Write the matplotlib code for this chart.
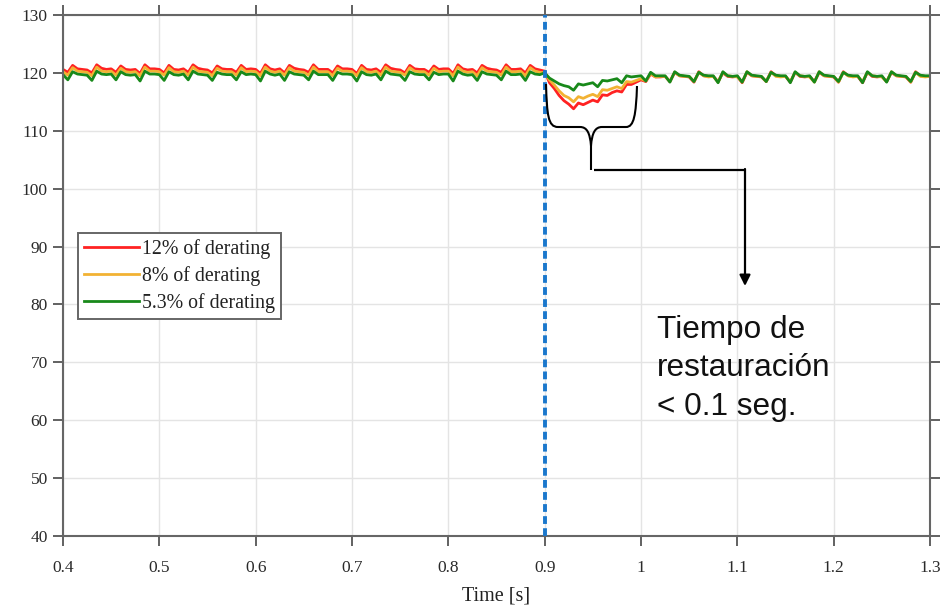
import numpy as np
import matplotlib
matplotlib.use("Agg")
import matplotlib.pyplot as plt
from matplotlib.path import Path
from matplotlib.patches import PathPatch

# ---------------- data ----------------
t_start, t_end, n_samples = 0.4, 1.3, 181
time_s = np.linspace(t_start, t_end, n_samples)

red_12 = [
    120.6, 120.1, 121.3, 120.7, 120.6, 120.5, 120.0, 121.4, 120.8, 120.6,
    120.7, 120.1, 121.2, 120.6, 120.5, 120.6, 119.9, 121.4, 120.7, 120.7,
    120.6, 120.0, 121.3, 120.6, 120.5, 120.7, 120.1, 121.4, 120.8, 120.6,
    120.5, 120.0, 121.2, 120.7, 120.6, 120.6, 120.1, 121.3, 120.6, 120.7,
    120.6, 119.9, 121.4, 120.7, 120.5, 120.7, 120.0, 121.3, 120.8, 120.6,
    120.5, 120.1, 121.4, 120.6, 120.6, 120.6, 120.0, 121.2, 120.7, 120.7,
    120.6, 119.9, 121.3, 120.6, 120.5, 120.7, 120.1, 121.4, 120.8, 120.6,
    120.5, 120.0, 121.3, 120.7, 120.6, 120.6, 120.1, 121.2, 120.6, 120.7,
    120.7, 119.9, 121.4, 120.7, 120.5, 120.6, 120.0, 121.3, 120.8, 120.6,
    120.5, 120.1, 121.4, 120.6, 120.6, 120.7, 120.0, 121.3, 120.7, 120.5,
    120.3, 118.3, 117.3, 116.1, 115.2, 114.6, 113.8, 114.8, 114.5, 114.9,
    115.3, 115.0, 116.2, 116.1, 116.6, 116.9, 116.7, 118.0, 118.0, 118.4,
    118.8, 118.5, 119.8, 119.3, 119.3, 119.4, 118.5, 120.1, 119.5, 119.4,
    119.3, 118.4, 120.2, 119.5, 119.4, 119.4, 118.5, 120.0, 119.4, 119.3,
    119.4, 118.3, 120.1, 119.5, 119.4, 119.3, 118.5, 120.2, 119.5, 119.4,
    119.4, 118.4, 120.1, 119.4, 119.3, 119.4, 118.5, 120.1, 119.5, 119.4,
    119.3, 118.4, 120.2, 119.5, 119.4, 119.4, 118.3, 120.1, 119.4, 119.3,
    119.4, 118.5, 120.1, 119.5, 119.4, 119.3, 118.4, 120.2, 119.5, 119.4,
    119.4,
]

orange_8 = [
    120.2, 119.6, 120.9, 120.3, 120.2, 120.1, 119.5, 121.0, 120.3, 120.2,
    120.3, 119.6, 120.8, 120.2, 120.1, 120.2, 119.5, 121.0, 120.3, 120.3,
    120.2, 119.6, 120.9, 120.2, 120.1, 120.3, 119.6, 121.0, 120.3, 120.2,
    120.1, 119.5, 120.8, 120.3, 120.2, 120.2, 119.6, 120.9, 120.2, 120.3,
    120.2, 119.5, 121.0, 120.3, 120.1, 120.3, 119.6, 120.9, 120.3, 120.2,
    120.1, 119.6, 121.0, 120.2, 120.2, 120.2, 119.5, 120.8, 120.3, 120.3,
    120.2, 119.5, 120.9, 120.2, 120.1, 120.3, 119.6, 121.0, 120.3, 120.2,
    120.1, 119.6, 120.9, 120.3, 120.2, 120.2, 119.6, 120.8, 120.2, 120.3,
    120.3, 119.5, 121.0, 120.3, 120.1, 120.2, 119.5, 120.9, 120.3, 120.2,
    120.1, 119.6, 121.0, 120.2, 120.2, 120.3, 119.5, 120.9, 120.3, 120.1,
    120.0, 118.8, 117.9, 116.9, 116.1, 115.7, 115.0, 115.9, 115.6, 116.0,
    116.3, 115.9, 117.1, 117.0, 117.3, 117.6, 117.3, 118.5, 118.4, 118.7,
    119.0, 118.6, 119.9, 119.3, 119.4, 119.4, 118.5, 120.1, 119.5, 119.4,
    119.4, 118.5, 120.1, 119.5, 119.3, 119.4, 118.4, 120.1, 119.5, 119.4,
    119.3, 118.4, 120.2, 119.5, 119.4, 119.4, 118.5, 120.1, 119.4, 119.3,
    119.4, 118.5, 120.1, 119.5, 119.4, 119.3, 118.4, 120.2, 119.5, 119.4,
    119.4, 118.4, 120.1, 119.5, 119.3, 119.4, 118.5, 120.1, 119.5, 119.4,
    119.3, 118.5, 120.2, 119.5, 119.4, 119.4, 118.4, 120.1, 119.4, 119.3,
    119.4,
]

green_53 = [
    119.7, 118.8, 120.2, 119.8, 119.7, 119.6, 118.7, 120.3, 119.8, 119.7,
    119.8, 118.8, 120.2, 119.7, 119.6, 119.7, 118.6, 120.3, 119.8, 119.8,
    119.7, 118.7, 120.2, 119.7, 119.6, 119.8, 118.8, 120.3, 119.8, 119.7,
    119.6, 118.7, 120.1, 119.8, 119.7, 119.7, 118.8, 120.2, 119.7, 119.8,
    119.7, 118.6, 120.3, 119.8, 119.6, 119.8, 118.7, 120.2, 119.8, 119.7,
    119.6, 118.8, 120.3, 119.7, 119.7, 119.7, 118.7, 120.1, 119.8, 119.8,
    119.7, 118.6, 120.2, 119.7, 119.6, 119.8, 118.8, 120.3, 119.8, 119.7,
    119.6, 118.7, 120.2, 119.8, 119.7, 119.7, 118.8, 120.1, 119.7, 119.8,
    119.8, 118.6, 120.3, 119.8, 119.6, 119.7, 118.7, 120.2, 119.8, 119.7,
    119.6, 118.8, 120.3, 119.7, 119.7, 119.8, 118.7, 120.2, 119.8, 119.7,
    120.0, 119.1, 118.6, 118.1, 117.8, 117.6, 117.0, 118.1, 117.9, 118.1,
    118.3, 117.6, 118.7, 118.6, 118.8, 119.0, 118.3, 119.5, 119.3, 119.4,
    119.5, 118.6, 120.1, 119.5, 119.5, 119.5, 118.4, 120.2, 119.6, 119.5,
    119.4, 118.5, 120.1, 119.6, 119.5, 119.5, 118.3, 120.2, 119.5, 119.4,
    119.5, 118.4, 120.2, 119.6, 119.5, 119.4, 118.5, 120.1, 119.6, 119.5,
    119.5, 118.3, 120.2, 119.5, 119.4, 119.5, 118.4, 120.2, 119.6, 119.5,
    119.4, 118.5, 120.1, 119.6, 119.5, 119.5, 118.3, 120.2, 119.5, 119.4,
    119.5, 118.4, 120.2, 119.6, 119.5, 119.4, 118.5, 120.1, 119.6, 119.5,
    119.5,
]

series_labels = ["12% of derating", "8% of derating", "5.3% of derating"]
series_colors = ["#ff2222", "#f2b233", "#18891a"]

x_ticks = [0.4, 0.5, 0.6, 0.7, 0.8, 0.9, 1.0, 1.1, 1.2, 1.3]
x_tick_labels = ["0.4", "0.5", "0.6", "0.7", "0.8", "0.9", "1", "1.1", "1.2", "1.3"]
y_ticks = [40, 50, 60, 70, 80, 90, 100, 110, 120, 130]
event_time = 0.9
x_label = "Time [s]"
note_text = "Tiempo de\nrestauración\n< 0.1 seg."

# ---------------- figure ----------------
W, H = 940, 609
fig = plt.figure(figsize=(W / 100, H / 100), dpi=100)
ax = fig.add_axes([63 / W, 1 - 536 / H, (930 - 63) / W, (536 - 15) / H])

serif = ["Liberation Serif", "DejaVu Serif"]
sans = ["Liberation Sans", "DejaVu Sans"]

for vals, lab, col in zip([red_12, orange_8, green_53], series_labels, series_colors):
    ax.plot(time_s, vals, color=col, lw=2.0, label=lab, solid_joinstyle="round")

ax.axvline(event_time, color="#1a77cc", lw=2.8, linestyle=(0, (2.0, 1.1)), zorder=5)

ax.set_xlim(t_start, t_end)
ax.set_ylim(40, 130)
ax.set_xticks(x_ticks)
ax.set_xticklabels(x_tick_labels)
ax.set_yticks(y_ticks)
ax.grid(True, color="#e4e4e4", lw=1.0)
ax.set_axisbelow(True)

for s in ax.spines.values():
    s.set_color("#666666")
    s.set_linewidth(1.5)

ax.tick_params(axis="both", direction="out", length=7, width=1.3, color="#555555",
               top=True, right=True, labelsize=12.5, labelcolor="#2a2a2a")
ax.tick_params(axis="x", pad=10)
ax.tick_params(axis="y", pad=4)
for lbl in ax.get_xticklabels() + ax.get_yticklabels():
    lbl.set_family(serif)

ax.set_xlabel(x_label, fontsize=14.5, family=serif, color="#222222")
ax.xaxis.set_label_coords(0.5, -0.097)

leg = ax.legend(loc="upper left", bbox_to_anchor=((78 - 63) / 867, 1 - (233 - 15) / 521),
                borderaxespad=0, prop={"family": serif, "size": 14.3},
                handlelength=2.75, handletextpad=0.15, labelspacing=0.35,
                borderpad=0.3, fancybox=False, framealpha=1, edgecolor="#666666")
leg.get_frame().set_linewidth(1.4)
for txt in leg.get_texts():
    txt.set_color("#222222")

# ---------------- annotation layer (pixel coordinates) ----------------
ov = fig.add_axes([0, 0, 1, 1], zorder=10)
ov.set_xlim(0, W)
ov.set_ylim(H, 0)
ov.axis("off")
ov.patch.set_alpha(0)

verts = [
    (546, 84), (547, 115), (548, 127), (558, 127),
    (580, 127),
    (587, 127), (590, 133), (591, 146),
    (591, 170),
    (591, 146), (592, 133), (595, 127), (602, 127),
    (626, 127),
    (634, 127), (636, 115), (637, 86),
]
codes = [Path.MOVETO, Path.CURVE4, Path.CURVE4, Path.CURVE4,
         Path.LINETO,
         Path.CURVE4, Path.CURVE4, Path.CURVE4,
         Path.LINETO,
         Path.MOVETO, Path.CURVE4, Path.CURVE4, Path.CURVE4,
         Path.LINETO,
         Path.CURVE4, Path.CURVE4, Path.CURVE4]
ov.add_patch(PathPatch(Path(verts, codes), fill=False, ec="black", lw=1.5))

ov.plot([594, 745], [170, 170], color="black", lw=1.6, solid_capstyle="butt")
ov.annotate("", xy=(745, 286), xytext=(745, 169),
            arrowprops=dict(arrowstyle="-|>", color="black", lw=1.6,
                            mutation_scale=16, shrinkA=0, shrinkB=0))

ov.text(657, 315, note_text, family=sans, fontsize=22.7, color="#111111",
        ha="left", va="top", linespacing=1.36)

fig.savefig("out.png", dpi=100)
